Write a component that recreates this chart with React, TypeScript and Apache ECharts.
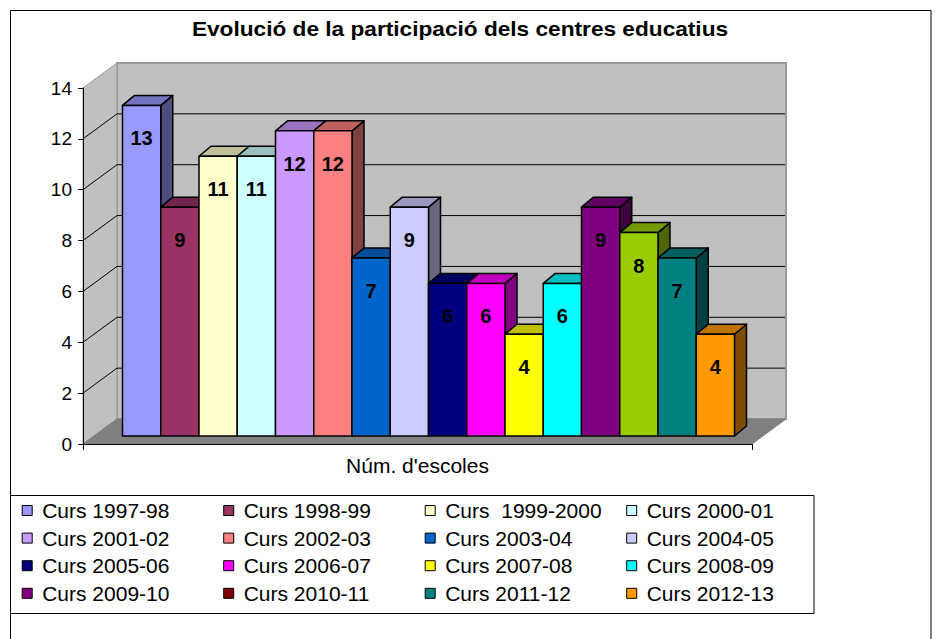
import React, { useEffect, useRef } from 'react';
import * as echarts from 'echarts';

const chartTitle = 'Evolució de la participació dels centres educatius';
const categories = ["Núm. d'escoles"];
const seriesNames = [
  'Curs 1997-98', 'Curs 1998-99', 'Curs  1999-2000', 'Curs 2000-01',
  'Curs 2001-02', 'Curs 2002-03', 'Curs 2003-04', 'Curs 2004-05',
  'Curs 2005-06', 'Curs 2006-07', 'Curs 2007-08', 'Curs 2008-09',
  'Curs 2009-10', 'Curs 2010-11', 'Curs 2011-12', 'Curs 2012-13',
];
const values = [13, 9, 11, 11, 12, 12, 7, 9, 6, 6, 4, 6, 9, 8, 7, 4];
const barColors = [
  '#9999FF', '#993366', '#FFFFCC', '#CCFFFF',
  '#CC99FF', '#FF8080', '#0066CC', '#CCCCFF',
  '#000080', '#FF00FF', '#FFFF00', '#00FFFF',
  '#800080', '#99CC00', '#008080', '#FF9900',
];
const legendColors = [
  '#9999FF', '#993366', '#FFFFCC', '#CCFFFF',
  '#CC99FF', '#FF8080', '#0066CC', '#CCCCFF',
  '#000080', '#FF00FF', '#FFFF00', '#00FFFF',
  '#800080', '#800000', '#008080', '#FF9900',
];
const yMin = 0;
const yMax = 14;
const yInterval = 2;

const FONT = '"Liberation Sans", Arial, Helvetica, sans-serif';
const DEPTH = [34, -25];
const BAR_OFF = [11, -8];
const BAR_DEPTH = [12, -10];
const BAR_FRAC = 38.25 / 669;
const LABEL_DROP = 33;

function shade(hex: string, f: number): string {
  const h = hex.replace('#', '');
  const r = Math.round(parseInt(h.slice(0, 2), 16) * f);
  const g = Math.round(parseInt(h.slice(2, 4), 16) * f);
  const b = Math.round(parseInt(h.slice(4, 6), 16) * f);
  return `rgb(${r},${g},${b})`;
}

export default function App() {
  const ref = useRef<HTMLDivElement>(null);
  useEffect(() => {
    if (!ref.current) return;
    const chart = echarts.init(ref.current, null, { renderer: 'svg' });
    const n = values.length;

    const wallSeries: any = {
      type: 'custom',
      silent: true,
      clip: false,
      z: 1,
      data: [[0, 0]],
      encode: { x: 0, y: 1 },
      renderItem: (params: any, api: any) => {
        const bw = api.size([1, 0])[0];
        const c0 = api.coord([0, yMin]);
        const c1 = api.coord([0, yMax]);
        const L = c0[0] - bw / 2;
        const R = c0[0] + bw / 2;
        const [dx, dy] = DEPTH;
        const children: any[] = [];
        children.push({
          type: 'polygon',
          shape: { points: [[L + dx, c1[1] + dy], [R + dx, c1[1] + dy], [R + dx, c0[1] + dy], [L + dx, c0[1] + dy]] },
          style: { fill: '#C0C0C0', stroke: '#999999', lineWidth: 2 },
        });
        children.push({
          type: 'polygon',
          shape: { points: [[L, c0[1]], [L, c1[1]], [L + dx, c1[1] + dy], [L + dx, c0[1] + dy]] },
          style: { fill: '#C0C0C0', stroke: '#999999', lineWidth: 1 },
        });
        children.push({
          type: 'polygon',
          shape: { points: [[L, c0[1]], [R, c0[1]], [R + dx, c0[1] + dy], [L + dx, c0[1] + dy]] },
          style: { fill: '#808080', stroke: '#808080', lineWidth: 1 },
        });
        for (let v = yMin + yInterval; v < yMax; v += yInterval) {
          const p = api.coord([0, v]);
          children.push({
            type: 'line',
            shape: { x1: L, y1: p[1], x2: L + dx, y2: p[1] + dy },
            style: { stroke: '#000', lineWidth: 1 },
          });
          children.push({
            type: 'line',
            shape: { x1: L + dx, y1: p[1] + dy, x2: R + dx - 1, y2: p[1] + dy },
            style: { stroke: '#000', lineWidth: 1 },
          });
        }
        return { type: 'group', children };
      },
    };

    const barSeries = seriesNames.map((name, i) => ({
      type: 'custom',
      name,
      silent: true,
      clip: false,
      z: 2,
      itemStyle: { color: barColors[i] },
      data: [[0, values[i]]],
      encode: { x: 0, y: 1 },
      renderItem: (params: any, api: any) => {
        const bw = api.size([1, 0])[0];
        const base = api.coord([0, 0]);
        const top = api.coord([0, api.value(1)]);
        const L = base[0] - bw / 2;
        const barW = bw * BAR_FRAC;
        const gap = (bw - n * barW) / 2;
        const x0 = L + gap + i * barW + BAR_OFF[0];
        const x1 = x0 + barW;
        const yB = base[1] + BAR_OFF[1];
        const yT = top[1] + BAR_OFF[1];
        const [ddx, ddy] = BAR_DEPTH;
        const col = barColors[i];
        const line = { stroke: '#000', lineWidth: 1.5, lineJoin: 'round' };
        return {
          type: 'group',
          children: [
            {
              type: 'polygon',
              shape: { points: [[x1, yT], [x1 + ddx, yT + ddy], [x1 + ddx, yB + ddy], [x1, yB]] },
              style: { fill: shade(col, 0.5), ...line },
            },
            {
              type: 'polygon',
              shape: { points: [[x0, yT], [x1, yT], [x1 + ddx, yT + ddy], [x0 + ddx, yT + ddy]] },
              style: { fill: shade(col, 0.75), ...line },
            },
            {
              type: 'rect',
              shape: { x: x0, y: yT, width: barW, height: yB - yT },
              style: { fill: col, ...line },
            },
            {
              type: 'text',
              style: {
                text: String(api.value(1)),
                x: (x0 + x1) / 2,
                y: yT + LABEL_DROP,
                fill: '#000',
                font: `bold 20px ${FONT}`,
                align: 'center',
                verticalAlign: 'middle',
                textAlign: 'center',
                textVerticalAlign: 'middle',
              },
            },
          ],
        };
      },
    }));

    chart.setOption({
      animation: false,
      backgroundColor: '#ffffff',
      grid: { left: 83, top: 88, width: 669, height: 356, containLabel: false },
      xAxis: {
        type: 'category',
        data: categories,
        z: 10,
        axisLine: { show: true, lineStyle: { color: '#000', width: 1 } },
        axisTick: { show: true, length: 6, lineStyle: { color: '#000' } },
        axisLabel: { fontSize: 21, color: '#000', fontFamily: FONT, margin: 11 },
        splitLine: { show: false },
      },
      yAxis: {
        type: 'value',
        min: yMin,
        max: yMax,
        interval: yInterval,
        z: 10,
        axisLine: { show: true, lineStyle: { color: '#000', width: 1 } },
        axisTick: { show: true, length: 5, lineStyle: { color: '#000' } },
        axisLabel: { fontSize: 19, color: '#000', fontFamily: FONT, margin: 11 },
        splitLine: { show: false },
      },
      legend: {
        data: seriesNames.map((nm, i) => ({
          name: nm,
          itemStyle: { color: legendColors[i], borderColor: '#000', borderWidth: 1 },
        })),
        left: 21.7,
        top: 496.7,
        width: 806,
        padding: 0,
        itemGap: 0,
        itemWidth: 10,
        itemHeight: 10,
        icon: 'rect',
        selectedMode: false,
        textStyle: {
          fontFamily: FONT,
          fontSize: 21,
          color: '#000',
          width: 181,
          lineHeight: 27.6,
          padding: [0, 0, 0, 5],
        },
      },
      graphic: [
        {
          type: 'rect',
          silent: true,
          z: 0,
          shape: { x: 10.5, y: 10.5, width: 920.5, height: 700 },
          style: { fill: 'none', stroke: '#000', lineWidth: 1 },
        },
        {
          type: 'rect',
          silent: true,
          z: 0,
          shape: { x: 10.5, y: 495.5, width: 803.5, height: 118 },
          style: { fill: 'none', stroke: '#000', lineWidth: 1 },
        },
        {
          type: 'text',
          silent: true,
          x: 460,
          y: 29,
          scaleX: 1.133,
          style: {
            text: chartTitle,
            font: `bold 20px ${FONT}`,
            fill: '#000',
            textAlign: 'center',
            textVerticalAlign: 'middle',
          },
        },
      ],
      series: [wallSeries, ...barSeries],
    });
    return () => chart.dispose();
  }, []);
  return <div ref={ref} style={{ position: 'fixed', left: 0, top: 0, width: 943, height: 639 }} />;
}
